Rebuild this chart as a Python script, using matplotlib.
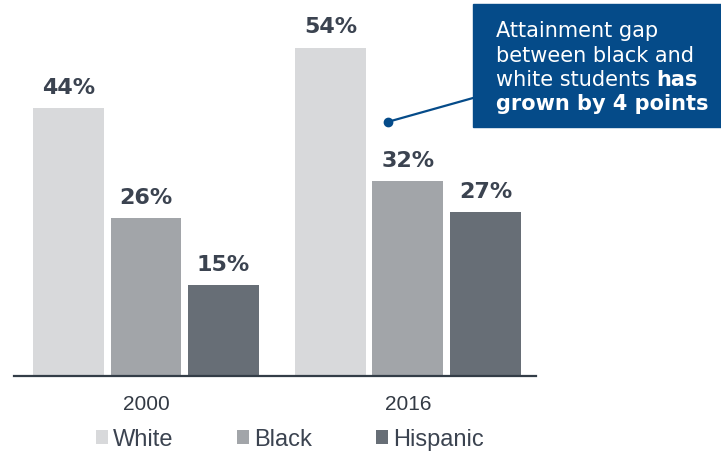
import matplotlib
matplotlib.use("Agg")
import matplotlib.pyplot as plt
from matplotlib.patches import Rectangle
import numpy as np

years = ["2000", "2016"]
groups = ["White", "Black", "Hispanic"]
white = [44, 54]
black = [26, 32]
hispanic = [15, 27]
colors = ["#d8d9db", "#a2a5a9", "#676e76"]
box_lines = ["Attainment gap", "between black and", "white students ", "has", "grown by 4 points"]

W, H = 721, 452
fig = plt.figure(figsize=(W / 100, H / 100), dpi=100)
ax = fig.add_axes([14 / W, 75 / H, 522 / W, 377 / H])

x = np.arange(len(years))
width = 0.271
offset = 0.296
txt_col = "#3b4350"
bars = []
for i, (vals, c, name) in enumerate(zip([white, black, hispanic], colors, groups)):
    b = ax.bar(x + (i - 1) * offset, vals, width, color=c, label=name)
    bars.append(b)
    for rect, v in zip(b, vals):
        ax.annotate(f"{v}%", (rect.get_x() + rect.get_width() / 2, v),
                    xytext=(0, 11), textcoords="offset points",
                    ha="center", va="baseline", fontsize=16, fontweight="bold",
                    color=txt_col, family="DejaVu Sans")

ax.set_xlim(-0.504, 1.489)
ax.set_ylim(0, 62)
ax.set_xticks(x)
ax.set_xticklabels(years, fontsize=15, color="#333a44", family="Liberation Sans")
ax.tick_params(axis="x", length=0, pad=13)
ax.set_yticks([])
for s in ["top", "right", "left"]:
    ax.spines[s].set_visible(False)
ax.spines["bottom"].set_color("#333d47")
ax.spines["bottom"].set_linewidth(1.6)

leg = fig.legend(handles=bars, labels=groups, loc="center", ncol=3,
                 bbox_to_anchor=(290 / W, (H - 440) / H), frameon=False,
                 prop={"family": "Liberation Sans", "size": 17},
                 handlelength=0.5, handleheight=0.55, handletextpad=0.22,
                 columnspacing=2.7, borderpad=0, borderaxespad=0)
for t in leg.get_texts():
    t.set_color(txt_col)

# callout box
box_col = "#054b89"
fig.patches.append(Rectangle((473 / W, (H - 128) / H), (W - 473) / W, 123 / H,
                             transform=fig.transFigure, color=box_col, zorder=3))
tx = 496 / W
base = [37, 61.5, 86.0, 110.5]
kw = dict(color="white", fontsize=15, family="DejaVu Sans", va="baseline", zorder=4)
fig.text(tx, (H - base[0]) / H, box_lines[0], **kw)
fig.text(tx, (H - base[1]) / H, box_lines[1], **kw)
t3 = fig.text(tx, (H - base[2]) / H, box_lines[2], **kw)
fig.text(tx, (H - base[3]) / H, box_lines[4], fontweight="bold", **kw)
fig.canvas.draw()
bb = t3.get_window_extent()
fig.text(bb.x1 / W, (H - base[2]) / H, box_lines[3], fontweight="bold", **kw)

# connector
dot = (0.924, 41.8)
ax.plot([dot[0]], [dot[1]], "o", color=box_col, markersize=6, zorder=5, clip_on=False)
ax.annotate("", xy=dot, xytext=(473 / W, (H - 99) / H), textcoords="figure fraction",
            arrowprops=dict(arrowstyle="-", color=box_col, lw=1.6, shrinkA=0, shrinkB=0))

fig.savefig("out.png", dpi=100)
